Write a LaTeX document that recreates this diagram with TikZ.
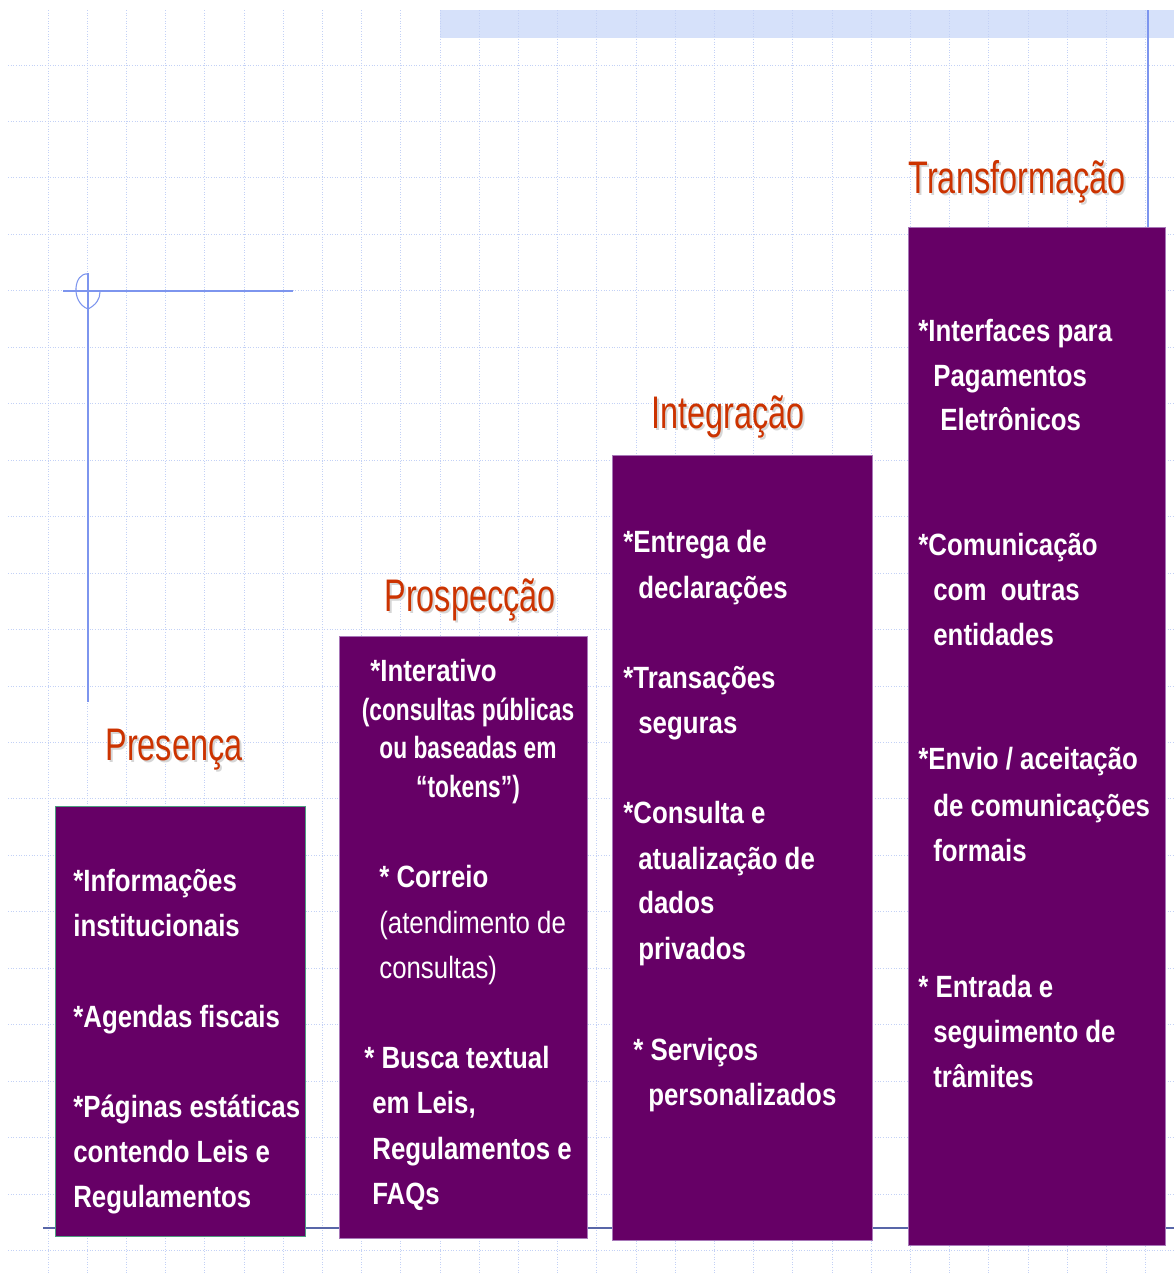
\documentclass[tikz,border=0pt]{standalone}
\usepackage{fontspec}
\newfontfamily\itemfont[FakeStretch=0.84]{Liberation Sans}
\newfontfamily\narrowfont[FakeStretch=0.74]{Liberation Sans}
\newfontfamily\titlefont[FakeStretch=0.71]{Liberation Sans}
\definecolor{stagepurple}{HTML}{660066}
\definecolor{titlered}{HTML}{CC3300}
\definecolor{gridblue}{HTML}{C3D1F6}
\definecolor{markblue}{HTML}{7D95EE}
\definecolor{floorblue}{HTML}{5866A8}
\definecolor{bandblue}{HTML}{D6E1FA}
\definecolor{tealedge}{HTML}{4E9C80}
\definecolor{lilacedge}{HTML}{A878B8}
\tikzset{
	grid line/.style={densely dotted, line width=0.5pt, color=gridblue},
	mark line/.style={color=markblue, line width=0.8pt},
	stage box/.style={fill=stagepurple, draw=lilacedge, line width=0.8pt, anchor=north west, inner sep=0},
	stage title/.style={anchor=base, inner sep=0, text=titlered, font=\titlefont\fontsize{26}{30}\selectfont},
	title shadow/.style={stage title, text=black!16},
	item/.style={anchor=base west, inner sep=0, text=white, font=\itemfont\bfseries\fontsize{17.5}{21}\selectfont},
	narrow item/.style={item, anchor=base, font=\narrowfont\bfseries\fontsize{17.5}{21}\selectfont},
	plain item/.style={item, font=\itemfont\fontsize{17.5}{21}\selectfont}
}

\begin{document}
\begin{tikzpicture}[x=0.02cm, y=-0.02cm]
	\useasboundingbox (0,0) rectangle (1174,1275);
	\fill[white] (0,0) rectangle (1174,1275);
	\fill[bandblue] (440,10) rectangle (1174,38);
	\foreach \k in {0,...,28}
		\draw[grid line] ({48+39.2*\k},10) -- ({48+39.2*\k},1275);
	\foreach \k in {0,...,21}
		\draw[grid line] (8,{65+56.45*\k}) -- (1174,{65+56.45*\k});
	\draw[mark line] (63,291) -- (293,291);
	\draw[mark line] (88,273) -- (88,702);
	\draw[mark line, line width=0.6pt] (88,274) .. controls (74,272) and (70,302) .. (88,309)
		.. controls (96,305) and (100,299) .. (100,292);
	\draw[mark line, line width=0.6pt] (1148,10) -- (1148,227);
	\draw[floorblue, line width=1.2pt] (43,1228) -- (1174,1228);

	\node[stage box, draw=tealedge, minimum width=5cm, minimum height=8.6cm] (presenca box) at (55,806) {};
	\node[stage box, minimum width=4.96cm, minimum height=12.04cm] (prospeccao box) at (339,636) {};
	\node[stage box, minimum width=5.2cm, minimum height=15.7cm] (integracao box) at (612,455) {};
	\node[stage box, minimum width=5.14cm, minimum height=20.36cm] (transformacao box) at (908,227) {};

	\node[title shadow] at (176,762) {Presença};
	\node[stage title] (presenca) at (174,760) {Presença};
	\node[title shadow] at (472,613) {Prospecção};
	\node[stage title] (prospeccao) at (470,611) {Prospecção};
	\node[title shadow] at (730,430) {Integração};
	\node[stage title] (integracao) at (728,428) {Integração};
	\node[title shadow] at (1019,195) {Transformação};
	\node[stage title] (transformacao) at (1017,193) {Transformação};

	\foreach \x/\y/\t [count=\i] in {73/891/{*Informações}, 73/936/{institucionais},
		73/1027/{*Agendas fiscais}, 73/1117/{*Páginas estáticas},
		73/1162/{contendo Leis e}, 73/1207/{Regulamentos}}
		\node[item] (presenca-\i) at (\x,\y) {\t};

	\node[item] (prospeccao-1) at (370,681) {*Interativo};
	\node[narrow item] (prospeccao-2) at (468,720) {(consultas públicas};
	\node[narrow item] (prospeccao-3) at (468,758) {ou baseadas em};
	\node[narrow item] (prospeccao-4) at (468,797) {“tokens”)};
	\node[item] (prospeccao-5) at (379,887) {* Correio};
	\node[plain item] (prospeccao-6) at (379,933) {(atendimento de};
	\node[plain item] (prospeccao-7) at (379,978) {consultas)};
	\foreach \x/\y/\t [count=\i from 8] in {364/1068/{* Busca textual}, 372/1113/{em Leis,},
		372/1159/{Regulamentos e}, 372/1204/{FAQs}}
		\node[item] (prospeccao-\i) at (\x,\y) {\t};

	\foreach \x/\y/\t [count=\i] in {623/552/{*Entrega de}, 638/598/{declarações},
		623/688/{*Transações}, 638/733/{seguras},
		623/823/{*Consulta e}, 638/869/{atualização de}, 638/913/{dados}, 638/959/{privados},
		633/1060/{* Serviços}, 648/1105/{personalizados}}
		\node[item] (integracao-\i) at (\x,\y) {\t};

	\foreach \x/\y/\t [count=\i] in {918/341/{*Interfaces para}, 933/386/{Pagamentos}, 940/430/{Eletrônicos},
		918/555/{*Comunicação}, 933/600/{com\ \ outras}, 933/645/{entidades},
		918/769/{*Envio / aceitação}, 933/816/{de comunicações}, 933/861/{formais},
		918/997/{* Entrada e}, 933/1042/{seguimento de}, 933/1087/{trâmites}}
		\node[item] (transformacao-\i) at (\x,\y) {\t};
\end{tikzpicture}
\end{document}
